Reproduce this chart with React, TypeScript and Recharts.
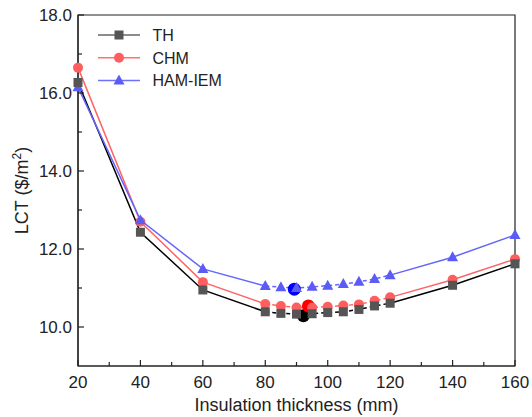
import { ComposedChart, Line, Scatter, XAxis, YAxis, Legend, ReferenceArea } from 'recharts';

const thickness = [20, 40, 60, 80, 85, 90, 95, 100, 105, 110, 115, 120, 140, 160];
const thValues = [16.27, 12.43, 10.95, 10.39, 10.35, 10.33, 10.34, 10.37, 10.39, 10.45, 10.54, 10.61, 11.07, 11.62];
const chmValues = [16.65, 12.7, 11.15, 10.59, 10.54, 10.5, 10.5, 10.52, 10.55, 10.58, 10.67, 10.76, 11.21, 11.74];
const hamValues = [16.15, 12.74, 11.49, 11.05, 11.02, 11.0, 11.03, 11.06, 11.1, 11.16, 11.23, 11.33, 11.79, 12.36];

// optimum points (thickness, LCT)
const thOptimum = [{ x: 92.2, opt: 10.29 }];
const chmOptimum = [{ x: 93.8, opt: 10.54 }];
const hamOptimum = [{ x: 89.3, opt: 10.97 }];

const xTicks = [20, 30, 40, 50, 60, 70, 80, 90, 100, 110, 120, 130, 140, 150, 160];
const xMajor = [20, 40, 60, 80, 100, 120, 140, 160];
const yTicks = [10, 11, 12, 13, 14, 15, 16, 17, 18];
const yMajor = [10, 12, 14, 16, 18];

// dashed part of each curve runs from 80 to 120 mm
const DASH_FROM = 80;
const DASH_TO = 120;

const FONT = '"Liberation Sans", Arial, sans-serif';
const AXIS = '#222';

const COLORS = {
  th: { line: '#000', marker: '#555', legend: '#666' },
  chm: { line: '#ff6464', marker: '#ff5e5e', legend: '#ff7070' },
  ham: { line: '#6464ff', marker: '#5b5bf5', legend: '#7070ff' },
};

const rows = thickness.map((x, i) => {
  const solid = x <= DASH_FROM || x >= DASH_TO;
  const dashed = x >= DASH_FROM && x <= DASH_TO;
  return {
    x,
    th: thValues[i],
    chm: chmValues[i],
    ham: hamValues[i],
    thSolid: solid ? thValues[i] : null,
    chmSolid: solid ? chmValues[i] : null,
    hamSolid: solid ? hamValues[i] : null,
    thDash: dashed ? thValues[i] : null,
    chmDash: dashed ? chmValues[i] : null,
    hamDash: dashed ? hamValues[i] : null,
  };
});

function square(color: string) {
  return (props: any) => {
    const { cx, cy, index } = props;
    if (cx == null || cy == null) return <g key={index} />;
    return <rect key={index} x={cx - 4.5} y={cy - 4.5} width={9} height={9} fill={color} />;
  };
}

function circle(color: string, r = 5) {
  return (props: any) => {
    const { cx, cy, index } = props;
    if (cx == null || cy == null) return <g key={index} />;
    return <circle key={index} cx={cx} cy={cy} r={r} fill={color} />;
  };
}

function triangle(color: string) {
  return (props: any) => {
    const { cx, cy, index } = props;
    if (cx == null || cy == null) return <g key={index} />;
    return (
      <polygon
        key={index}
        points={`${cx},${cy - 6} ${cx - 5.5},${cy + 4} ${cx + 5.5},${cy + 4}`}
        fill={color}
      />
    );
  };
}

function XTick(props: any) {
  const { x, y, payload } = props;
  const major = xMajor.includes(payload.value);
  return (
    <g>
      <line x1={x} y1={y} x2={x} y2={y - (major ? 6 : 4)} stroke={AXIS} strokeWidth={1.2} />
      {major && (
        <text x={x} y={y + 21.5} textAnchor="middle" fontSize={17} fill={AXIS} fontFamily={FONT}>
          {payload.value}
        </text>
      )}
    </g>
  );
}

function YTick(props: any) {
  const { x, y, payload } = props;
  const major = yMajor.includes(payload.value);
  return (
    <g>
      <line x1={x} y1={y} x2={x + (major ? 6 : 4)} y2={y} stroke={AXIS} strokeWidth={1.2} />
      {major && (
        <text x={x - 6} y={y} dy="0.36em" textAnchor="end" fontSize={17} fill={AXIS} fontFamily={FONT}>
          {payload.value.toFixed(1)}
        </text>
      )}
    </g>
  );
}

function YTitle(props: any) {
  const { viewBox } = props;
  const cx = viewBox.x + 22;
  const cy = viewBox.y + viewBox.height / 2;
  return (
    <text
      x={cx}
      y={cy}
      transform={`rotate(-90, ${cx}, ${cy})`}
      textAnchor="middle"
      dy="0.35em"
      fontSize={18}
      fill={AXIS}
      fontFamily={FONT}
    >
      LCT ($/m
      <tspan dy={-7} fontSize={12}>2</tspan>
      <tspan dy={7}>)</tspan>
    </text>
  );
}

const legendItems = [
  { label: 'TH', color: COLORS.th.legend, marker: 'square', fill: COLORS.th.marker },
  { label: 'CHM', color: COLORS.chm.legend, marker: 'circle', fill: COLORS.chm.marker },
  { label: 'HAM-IEM', color: COLORS.ham.legend, marker: 'triangle', fill: COLORS.ham.marker },
];

// legend drawn as one svg; row centres about 22.8px apart
function LegendBox() {
  return (
    <svg width={200} height={70} style={{ display: 'block', overflow: 'visible' }}>
      {legendItems.map((item, i) => {
        const cy = 11 + i * 22.8;
        return (
          <g key={item.label}>
            <line x1={0} y1={cy} x2={42} y2={cy} stroke={item.color} strokeWidth={1.5} />
            {item.marker === 'square' && <rect x={16.5} y={cy - 4.5} width={9} height={9} fill={item.fill} />}
            {item.marker === 'circle' && <circle cx={21} cy={cy} r={5} fill={item.fill} />}
            {item.marker === 'triangle' && (
              <polygon points={`21,${cy - 6} 15.5,${cy + 4} 26.5,${cy + 4}`} fill={item.fill} />
            )}
            <text x={54.5} y={cy} dy="0.36em" fontSize={16} fill="#222" fontFamily={FONT}>
              {item.label}
            </text>
          </g>
        );
      })}
    </svg>
  );
}

export default function App() {
  return (
    <div style={{ position: 'absolute', left: 0, top: 0, background: '#fff' }}>
      <ComposedChart width={532} height={417} data={rows} margin={{ top: 15, right: 17, bottom: 0, left: 0 }}>
        <XAxis
          dataKey="x"
          type="number"
          domain={[20, 160]}
          ticks={xTicks}
          interval={0}
          tick={<XTick />}
          tickLine={false}
          tickSize={0}
          tickMargin={0}
          height={51}
          axisLine={{ stroke: AXIS, strokeWidth: 1.2 }}
          label={{
            value: 'Insulation thickness (mm)',
            position: 'insideBottom',
            offset: 6,
            fontSize: 18,
            fill: AXIS,
            fontFamily: FONT,
          }}
        />
        <YAxis
          type="number"
          domain={[9, 18]}
          ticks={yTicks}
          interval={0}
          tick={<YTick />}
          tickLine={false}
          tickSize={0}
          tickMargin={0}
          width={78}
          axisLine={{ stroke: AXIS, strokeWidth: 1.2 }}
          label={{ content: <YTitle /> }}
        />
        <ReferenceArea x1={20} x2={160} y1={9} y2={18} fill="none" stroke={AXIS} strokeWidth={1.2} ifOverflow="visible" />
        <Legend
          layout="vertical"
          align="center"
          verticalAlign="middle"
          content={<LegendBox />}
          wrapperStyle={{ left: 98, top: 24, width: 200, height: 70 }}
        />

        <Line dataKey="thSolid" stroke={COLORS.th.line} strokeWidth={1.5} dot={false} isAnimationActive={false} legendType="none" />
        <Line dataKey="thDash" stroke={COLORS.th.line} strokeWidth={1.5} strokeDasharray="4 3" dot={false} isAnimationActive={false} legendType="none" />
        <Line dataKey="chmSolid" stroke={COLORS.chm.line} strokeWidth={1.5} dot={false} isAnimationActive={false} legendType="none" />
        <Line dataKey="chmDash" stroke={COLORS.chm.line} strokeWidth={1.5} strokeDasharray="4 3" dot={false} isAnimationActive={false} legendType="none" />
        <Line dataKey="hamSolid" stroke={COLORS.ham.line} strokeWidth={1.5} dot={false} isAnimationActive={false} legendType="none" />
        <Line dataKey="hamDash" stroke={COLORS.ham.line} strokeWidth={1.5} strokeDasharray="4 3" dot={false} isAnimationActive={false} legendType="none" />

        <Line dataKey="chm" stroke="none" dot={circle(COLORS.chm.marker)} activeDot={false} isAnimationActive={false} />
        <Line dataKey="ham" stroke="none" dot={triangle(COLORS.ham.marker)} activeDot={false} isAnimationActive={false} />
        <Line dataKey="th" stroke="none" dot={square(COLORS.th.marker)} activeDot={false} isAnimationActive={false} />

        <Scatter data={thOptimum} dataKey="opt" fill="#000" shape={circle('#000', 6.5)} isAnimationActive={false} />
        <Scatter data={hamOptimum} dataKey="opt" fill="#00f" shape={circle('#0000ff', 6.5)} isAnimationActive={false} />
        <Scatter data={chmOptimum} dataKey="opt" fill="#f00" shape={circle('#ff0000', 6.5)} isAnimationActive={false} />
      </ComposedChart>
    </div>
  );
}
